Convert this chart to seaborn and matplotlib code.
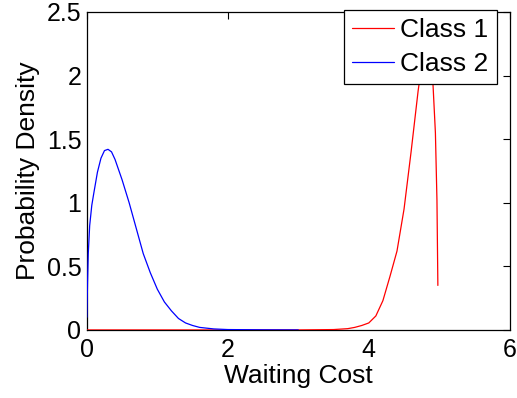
import matplotlib
matplotlib.use("Agg")
import matplotlib.pyplot as plt
import seaborn as sns
import pandas as pd

# Class 1 (red) density curve
class1_x = [0, 1.2, 2.0, 3.0, 3.5, 3.7, 3.8, 3.9, 4.0, 4.1, 4.2, 4.3, 4.4, 4.5,
            4.6, 4.7, 4.78, 4.84, 4.88, 4.91, 4.945, 4.967, 4.98]
class1_y = [0, 0, 0, 0, 0.003, 0.01, 0.02, 0.035, 0.055, 0.11, 0.23, 0.42, 0.62, 0.95,
            1.4, 1.88, 2.2, 2.32, 2.2, 1.94, 1.55, 1.02, 0.35]

# Class 2 (blue) density curve
class2_x = [0, 0.01, 0.02, 0.04, 0.07, 0.1, 0.15, 0.2, 0.25, 0.3, 0.35, 0.4, 0.5, 0.6,
            0.7, 0.8, 0.9, 1.0, 1.1, 1.2, 1.3, 1.4, 1.5, 1.6, 1.8, 2.0, 2.5, 3.0]
class2_y = [0.1, 0.38, 0.6, 0.82, 0.98, 1.08, 1.24, 1.35, 1.41, 1.42, 1.40, 1.34, 1.18, 1.0,
            0.8, 0.6, 0.45, 0.32, 0.22, 0.15, 0.09, 0.055, 0.035, 0.02, 0.008, 0.003, 0.001, 0.0]

series_names = ["Class 1", "Class 2"]
colors = {"Class 1": "#ff0000", "Class 2": "#0000ff"}

df = pd.concat([
    pd.DataFrame({"x": class1_x, "y": class1_y, "series": series_names[0]}),
    pd.DataFrame({"x": class2_x, "y": class2_y, "series": series_names[1]}),
], ignore_index=True)

sns.set_style("white")
plt.rcParams["font.family"] = ["Liberation Sans", "DejaVu Sans"]
plt.rcParams["text.color"] = "black"
plt.rcParams["axes.labelcolor"] = "black"
plt.rcParams["xtick.color"] = "black"
plt.rcParams["ytick.color"] = "black"

fig = plt.figure(figsize=(5.17, 3.98), dpi=100)
ax = fig.add_axes([0.168, 0.171, 0.818, 0.799])

sns.lineplot(data=df, x="x", y="y", hue="series", palette=colors, sort=False,
             estimator=None, linewidth=0.9, ax=ax, zorder=3)

ax.set_xlim(0, 6)
ax.set_ylim(0, 2.5)
ax.set_xticks([0, 2, 4, 6])
ax.set_yticks([0, 0.5, 1, 1.5, 2, 2.5])
ax.set_yticklabels(["0", "0.5", "1", "1.5", "2", "2.5"])
ax.tick_params(direction="in", top=True, right=True, length=5, width=0.8,
               labelsize=18, labelcolor="black", color="black")
ax.tick_params(axis="x", pad=6)
ax.tick_params(axis="y", pad=4)
for s in ax.spines.values():
    s.set_color("black")
    s.set_linewidth(0.9)

ax.set_xlabel("Waiting Cost", fontsize=19, labelpad=1, color="black")
ax.set_ylabel("Probability Density", fontsize=19, labelpad=5, color="black")

leg = ax.legend(loc="upper right", bbox_to_anchor=(0.969, 1.006), fontsize=19,
                frameon=True, fancybox=False, borderpad=0.3, handlelength=1.6,
                handletextpad=0.25, labelspacing=0.38, borderaxespad=0.0)
leg.get_frame().set_edgecolor("black")
leg.get_frame().set_linewidth(0.9)
leg.get_frame().set_alpha(1)
for line in leg.get_lines():
    line.set_linewidth(0.9)
for t in leg.get_texts():
    t.set_color("black")

fig.savefig("out.png", dpi=100)
